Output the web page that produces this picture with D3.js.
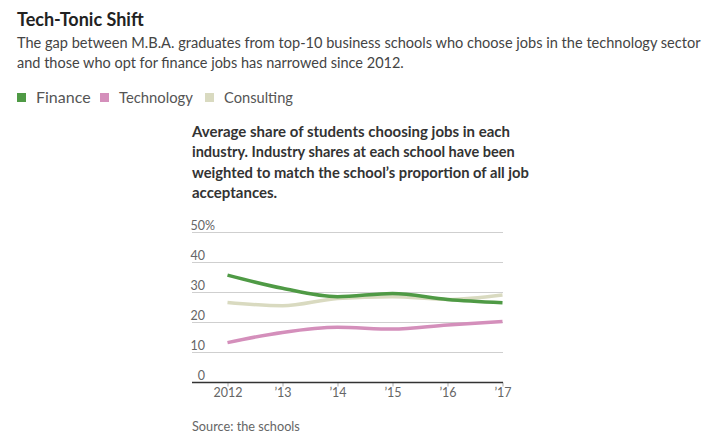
<!DOCTYPE html>
<html>
<head>
<meta charset="utf-8">
<script src="https://cdn.jsdelivr.net/npm/d3@7"></script>
<style>
  html, body { margin: 0; padding: 0; background: #fff; }
  svg { display: block; }
  text { font-family: "Lato", "Noto Sans", sans-serif; }
</style>
</head>
<body>
<svg id="chart" width="725" height="442"></svg>
<script>
const years = [2012, 2013, 2014, 2015, 2016, 2017];
const yearLabels = ["2012", "\u201913", "\u201914", "\u201915", "\u201916", "\u201917"];
const finance = [35.8, 31.4, 28.6, 29.7, 27.7, 26.6];
const technology = [13.3, 16.7, 18.4, 17.8, 19.2, 20.3];
const consulting = [26.7, 25.6, 28.0, 28.6, 27.7, 29.2];
const yTicks = [0, 10, 20, 30, 40, 50];
const seriesNames = ["Finance", "Technology", "Consulting"];
const seriesColors = ["#4f9a45", "#d48fbb", "#d9dac0"];

const title = "Tech-Tonic Shift";
const subtitle = ["The gap between M.B.A. graduates from top-10 business schools who choose jobs in the technology sector",
                  "and those who opt for finance jobs has narrowed since 2012."];
const note = ["Average share of students choosing jobs in each",
              "industry. Industry shares at each school have been",
              "weighted to match the school\u2019s proportion of all job",
              "acceptances."];
const source = "Source: the schools";

const svg = d3.select("#chart");

// shrink the font size so the text is no wider than w
function fit(sel, w) {
  const n = sel.node();
  const len = n.getComputedTextLength();
  if (len > w) {
    const fs = parseFloat(sel.attr("font-size"));
    sel.attr("font-size", (fs * w / len).toFixed(2));
  }
  return sel;
}

fit(svg.append("text").attr("x", 17).attr("y", 26).text(title)
  .attr("font-size", 18).attr("font-weight", "bold").attr("fill", "#222"), 129);

const subW = [684, 387];
const subFs = [];
subtitle.forEach((s, i) => {
  const t = fit(svg.append("text").attr("x", 17).attr("y", 48 + i * 19.5).text(s)
    .attr("font-size", 16).attr("fill", "#444"), subW[i]);
  subFs.push(+t.attr("font-size"));
});
// use one size for both subtitle lines
const sfs = d3.min(subFs);
svg.selectAll("text.sub").attr("font-size", sfs);

// legend
const legendX = [17, 100, 205];
const legendW = [59, 74, 69];
seriesNames.forEach((n, i) => {
  const g = svg.append("g").attr("transform", `translate(${legendX[i]},93)`);
  g.append("rect").attr("width", 9).attr("height", 9).attr("fill", seriesColors[i]);
  fit(g.append("text").attr("x", 19).attr("y", 10).text(n)
    .attr("font-size", 16).attr("fill", "#555"), legendW[i]);
});

const noteW = [318, 323, 337, 90];
note.forEach((s, i) => {
  fit(svg.append("text").attr("x", 192).attr("y", 136.5 + i * 20.5).text(s)
    .attr("font-size", 15).attr("font-weight", "bold").attr("fill", "#333"), noteW[i]);
});

const x = d3.scaleLinear().domain([2012, 2017]).range([227.5, 502.5]);
const y = d3.scaleLinear().domain([0, 50]).range([382.5, 232.5]);

// gridlines
svg.append("g").selectAll("line").data(yTicks.filter(d => d > 0)).join("line")
  .attr("x1", 192).attr("x2", 503)
  .attr("y1", d => y(d)).attr("y2", d => y(d))
  .attr("stroke", "#cfcfcf").attr("stroke-width", 1);

// y labels
const yl = svg.append("g");
yTicks.forEach(d => {
  yl.append("text").attr("x", 205).attr("y", y(d) - 3).attr("text-anchor", "end")
    .text(d).attr("font-size", 12.5).attr("fill", "#666");
});
yl.append("text").attr("x", 205).attr("y", y(50) - 3).text("%")
  .attr("font-size", 12.5).attr("fill", "#666");

// x axis
const xAxis = d3.axisBottom(x).tickValues(years).tickFormat((d, i) => yearLabels[i])
  .tickSize(4).tickSizeOuter(0);
const gx = svg.append("g").attr("transform", `translate(0,${y(0)})`).call(xAxis);
gx.select(".domain").remove();
gx.selectAll(".tick line").attr("stroke", "#aaa");
gx.selectAll(".tick text").attr("font-size", 12.5).attr("fill", "#666").attr("dy", "0.6em")
  .style("font-family", "Lato, sans-serif");
svg.append("line").attr("x1", 192).attr("x2", 503).attr("y1", y(0)).attr("y2", y(0))
  .attr("stroke", "#333").attr("stroke-width", 1.5);

const line = d3.line().x((d, i) => x(years[i])).y(d => y(d)).curve(d3.curveMonotoneX);
const data = [consulting, technology, finance];
const cols = [seriesColors[2], seriesColors[1], seriesColors[0]];
data.forEach((vals, k) => {
  svg.append("path").datum(vals).attr("d", line).attr("fill", "none")
    .attr("stroke", cols[k]).attr("stroke-width", 3.5).attr("stroke-linejoin", "round");
});

fit(svg.append("text").attr("x", 192).attr("y", 431).text(source)
  .attr("font-size", 14).attr("fill", "#666"), 108);
</script>
</body>
</html>
